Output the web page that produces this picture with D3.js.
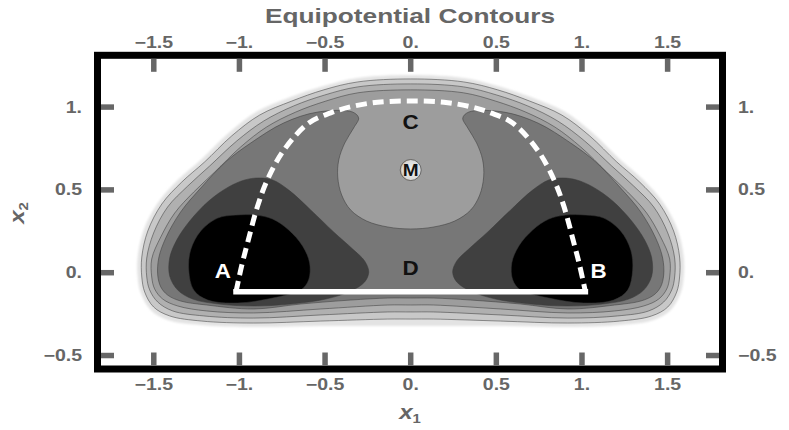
<!DOCTYPE html>
<html><head><meta charset="utf-8">
<script src="https://cdn.jsdelivr.net/npm/d3@7"></script>
<style>
body{margin:0;background:#fff;}
svg{display:block;}
text{font-family:"Liberation Sans",Arial,sans-serif;font-weight:bold;}
</style>
</head><body>
<svg id="c" width="789" height="430"></svg>
<script>
// ---- axis ticks ----
const xTicks = [-1.5, -1, -0.5, 0, 0.5, 1, 1.5];
const xTickLabels = ["\u22121.5", "\u22121.", "\u22120.5", "0.", "0.5", "1.", "1.5"];
const yTicks = [-0.5, 0, 0.5, 1];
const yTickLabels = ["\u22120.5", "0.", "0.5", "1."];

// ---- equipotential contour boundaries (x1, x2) ----
const level6 = [[0,1.194],[-0.309,1.176],[-0.508,1.127],[-0.701,1.061],[-0.893,0.976],[-1.063,0.844],[-1.226,0.681],[-1.360,0.560],[-1.477,0.421],[-1.559,0.258],[-1.594,0.095],[-1.594,-0.026],[-1.576,-0.123],[-1.518,-0.225],[-1.419,-0.286],[-1.226,-0.316],[-0.917,-0.328],[-0.525,-0.322],[-0.134,-0.322],[0,-0.322],[0.134,-0.322],[0.525,-0.322],[0.917,-0.328],[1.226,-0.316],[1.419,-0.286],[1.518,-0.225],[1.576,-0.123],[1.594,-0.026],[1.594,0.095],[1.559,0.258],[1.477,0.421],[1.360,0.560],[1.226,0.681],[1.063,0.844],[0.893,0.976],[0.701,1.061],[0.508,1.127],[0.309,1.176]];
const level5 = [[0,1.170],[-0.309,1.152],[-0.508,1.104],[-0.695,1.036],[-0.882,0.952],[-1.045,0.826],[-1.203,0.669],[-1.337,0.547],[-1.453,0.415],[-1.535,0.252],[-1.570,0.095],[-1.570,-0.026],[-1.553,-0.117],[-1.501,-0.207],[-1.407,-0.261],[-1.220,-0.292],[-0.917,-0.304],[-0.525,-0.292],[-0.134,-0.280],[0,-0.280],[0.134,-0.280],[0.525,-0.292],[0.917,-0.304],[1.220,-0.292],[1.407,-0.261],[1.501,-0.207],[1.553,-0.117],[1.570,-0.026],[1.570,0.095],[1.535,0.252],[1.453,0.415],[1.337,0.547],[1.203,0.669],[1.045,0.826],[0.882,0.952],[0.695,1.036],[0.508,1.104],[0.309,1.152]];
const level4 = [[0,1.140],[-0.309,1.122],[-0.502,1.073],[-0.683,1.007],[-0.858,0.916],[-1.016,0.795],[-1.174,0.644],[-1.302,0.523],[-1.419,0.397],[-1.501,0.240],[-1.541,0.089],[-1.541,-0.026],[-1.524,-0.104],[-1.477,-0.177],[-1.389,-0.231],[-1.208,-0.261],[-0.917,-0.274],[-0.525,-0.255],[-0.134,-0.237],[0,-0.237],[0.134,-0.237],[0.525,-0.255],[0.917,-0.274],[1.208,-0.261],[1.389,-0.231],[1.477,-0.177],[1.524,-0.104],[1.541,-0.026],[1.541,0.089],[1.501,0.240],[1.419,0.397],[1.302,0.523],[1.174,0.644],[1.016,0.795],[0.858,0.916],[0.683,1.007],[0.502,1.073],[0.309,1.122]];
const level3 = [[0,1.104],[-0.309,1.086],[-0.496,1.036],[-0.671,0.970],[-0.841,0.880],[-0.993,0.759],[-1.144,0.608],[-1.267,0.487],[-1.378,0.360],[-1.459,0.216],[-1.512,0.083],[-1.512,-0.026],[-1.495,-0.098],[-1.448,-0.159],[-1.360,-0.201],[-1.191,-0.231],[-0.917,-0.243],[-0.525,-0.219],[-0.134,-0.195],[0,-0.195],[0.134,-0.195],[0.525,-0.219],[0.917,-0.243],[1.191,-0.231],[1.360,-0.201],[1.448,-0.159],[1.495,-0.098],[1.512,-0.026],[1.512,0.083],[1.459,0.216],[1.378,0.360],[1.267,0.487],[1.144,0.608],[0.993,0.759],[0.841,0.880],[0.671,0.970],[0.496,1.036],[0.309,1.086]];
// U-shaped body band (leaves the central hill around M open)
const level2 = [[-0.339,0.970],[-0.304,0.934],[-0.333,0.874],[-0.385,0.783],[-0.420,0.681],[-0.426,0.578],[-0.403,0.469],[-0.350,0.378],[-0.257,0.312],[-0.134,0.276],[0,0.264],[0.134,0.276],[0.257,0.312],[0.350,0.378],[0.403,0.469],[0.426,0.578],[0.420,0.681],[0.385,0.783],[0.333,0.874],[0.304,0.934],[0.339,0.970],[0.543,0.970],[0.742,0.904],[0.934,0.783],[1.080,0.669],[1.226,0.511],[1.343,0.367],[1.430,0.210],[1.471,0.089],[1.477,-0.014],[1.459,-0.086],[1.419,-0.135],[1.343,-0.171],[1.191,-0.195],[0.917,-0.219],[0.642,-0.189],[0.350,-0.165],[0.134,-0.153],[0,-0.153],[-0.134,-0.153],[-0.350,-0.165],[-0.642,-0.189],[-0.917,-0.219],[-1.191,-0.195],[-1.343,-0.171],[-1.419,-0.135],[-1.459,-0.086],[-1.477,-0.014],[-1.471,0.089],[-1.430,0.210],[-1.343,0.367],[-1.226,0.511],[-1.080,0.669],[-0.934,0.783],[-0.742,0.904],[-0.543,0.970]];
const level1Left = [[-0.887,0.572],[-0.806,0.560],[-0.712,0.499],[-0.584,0.379],[-0.450,0.246],[-0.339,0.143],[-0.269,0.071],[-0.245,0.004],[-0.269,-0.056],[-0.350,-0.111],[-0.496,-0.159],[-0.701,-0.189],[-0.917,-0.201],[-1.121,-0.189],[-1.273,-0.159],[-1.360,-0.105],[-1.407,-0.020],[-1.407,0.089],[-1.366,0.197],[-1.290,0.312],[-1.179,0.433],[-1.063,0.518],[-0.969,0.560]];
const level1Right = [[0.887,0.572],[0.806,0.560],[0.712,0.499],[0.584,0.379],[0.450,0.246],[0.339,0.143],[0.269,0.071],[0.245,0.004],[0.269,-0.056],[0.350,-0.111],[0.496,-0.159],[0.701,-0.189],[0.917,-0.201],[1.121,-0.189],[1.273,-0.159],[1.360,-0.105],[1.407,-0.020],[1.407,0.089],[1.366,0.197],[1.290,0.312],[1.179,0.433],[1.063,0.518],[0.969,0.560]];
const level0Left = [[-1.127,0.330],[-1.022,0.348],[-0.905,0.348],[-0.806,0.324],[-0.712,0.258],[-0.631,0.161],[-0.590,0.059],[-0.596,-0.044],[-0.642,-0.105],[-0.806,-0.153],[-1.010,-0.183],[-1.185,-0.165],[-1.267,-0.105],[-1.296,0.016],[-1.285,0.137],[-1.226,0.252]];
const level0Right = [[1.127,0.330],[1.022,0.348],[0.905,0.348],[0.806,0.324],[0.712,0.258],[0.631,0.161],[0.590,0.059],[0.596,-0.044],[0.642,-0.105],[0.806,-0.153],[1.010,-0.183],[1.185,-0.165],[1.267,-0.105],[1.296,0.016],[1.285,0.137],[1.226,0.252]];

const bandFills = ["#000000", "#404040", "#777777", "#9d9d9d", "#b0b0b0", "#c8c8c8", "#e3e3e3"];

// ---- paths ----
const arcPath = [[-1.02,-0.115],[-0.985,0.05],[-0.953,0.178],[-0.895,0.399],[-0.837,0.560],[-0.740,0.741],[-0.595,0.904],[-0.467,0.965],[-0.350,1.002],[-0.194,1.029],[0,1.037],[0.194,1.029],[0.350,1.002],[0.467,0.965],[0.595,0.904],[0.740,0.741],[0.837,0.560],[0.895,0.399],[0.953,0.178],[0.985,0.05],[1.02,-0.115]];
const basePath = [[-1.02,-0.115],[1.02,-0.115]];

// ---- point labels ----
const pointNames = ["A", "B", "C", "D", "M"];
const pointX = [-1.097, 1.097, 0, 0, 0];
const pointY = [0.01, 0.01, 0.91, 0.028, 0.62];
const pointColors = ["#ffffff", "#ffffff", "#111111", "#111111", "#111111"];

// =====================================================
const svg = d3.select("#c");
const x = d3.scaleLinear().domain([-1.8, 1.8]).range([102.4, 719.0]);
const y = d3.scaleLinear().domain([-0.55, 1.3]).range([363.8, 57.4]);
const closedLine = d3.line().x(d => x(d[0])).y(d => y(d[1])).curve(d3.curveCatmullRomClosed.alpha(0.5));
const openLine = d3.line().x(d => x(d[0])).y(d => y(d[1])).curve(d3.curveCatmullRom.alpha(0.5));

const defs = svg.append("defs");
defs.append("filter").attr("id", "soft").attr("x", "-5%").attr("y", "-5%").attr("width", "110%").attr("height", "110%")
  .append("feGaussianBlur").attr("stdDeviation", 0.8);
const rg = defs.append("radialGradient").attr("id", "mg").attr("cx", "0.55").attr("cy", "0.5").attr("r", "0.6");
rg.append("stop").attr("offset", "0").attr("stop-color", "#f2f2f2");
rg.append("stop").attr("offset", "0.75").attr("stop-color", "#d9d9d9");
rg.append("stop").attr("offset", "1").attr("stop-color", "#b08a60");

const g = svg.append("g");
g.append("path").attr("d", closedLine(level6)).attr("fill", bandFills[6]).attr("filter", "url(#soft)");
const bands = [
  {pts: level5, fill: bandFills[5]},
  {pts: level4, fill: bandFills[4]},
  {pts: level3, fill: bandFills[3]},
  {pts: level2, fill: bandFills[2]},
  {pts: level1Left, fill: bandFills[1]},
  {pts: level1Right, fill: bandFills[1]},
  {pts: level0Left, fill: bandFills[0]},
  {pts: level0Right, fill: bandFills[0]}
];
g.selectAll("path.band").data(bands).join("path").attr("class", "band")
  .attr("d", d => closedLine(d.pts)).attr("fill", d => d.fill)
  .attr("stroke", "#3a3a3a").attr("stroke-width", 0.7).attr("stroke-opacity", 0.75);

// dashed arc and base line
g.append("path").attr("d", openLine(arcPath)).attr("fill", "none")
  .attr("stroke", "#ffffff").attr("stroke-width", 5).attr("stroke-dasharray", "11,6");
g.append("path").attr("d", d3.line().x(d => x(d[0])).y(d => y(d[1]))(basePath)).attr("fill", "none")
  .attr("stroke", "#ffffff").attr("stroke-width", 5.5).attr("stroke-linecap", "square");

// M marker
g.append("circle").attr("cx", x(pointX[4])).attr("cy", y(pointY[4])).attr("r", 10.5)
  .attr("fill", "url(#mg)").attr("stroke", "#555").attr("stroke-width", 0.8);

// point labels
g.selectAll("text.pt").data(pointNames).join("text").attr("class", "pt")
  .attr("transform", (d, i) => `translate(${x(pointX[i])},${y(pointY[i])}) scale(1.12,1)`)
  .attr("text-anchor", "middle").attr("dy", "0.36em")
  .attr("font-size", (d, i) => i === 4 ? 17 : 20)
  .attr("fill", (d, i) => pointColors[i]).text(d => d);

// frame
const fx0 = 97.5, fx1 = 722.5, fy0 = 55.3, fy1 = 369.0;
svg.append("rect").attr("x", fx0).attr("y", fy0).attr("width", fx1 - fx0).attr("height", fy1 - fy0)
  .attr("fill", "none").attr("stroke", "#000").attr("stroke-width", 7);

// ticks
const tickColor = "#676767", tickLen = 13, tickW = 5.5;
const inL = fx0 + 3.5, inR = fx1 - 3.5, inT = fy0 + 3.5, inB = fy1 - 3.5;
const tk = svg.append("g").attr("stroke", tickColor).attr("stroke-width", tickW);
tk.selectAll("line.tt").data(xTicks).join("line").attr("class", "tt")
  .attr("x1", d => x(d)).attr("x2", d => x(d)).attr("y1", inT).attr("y2", inT + tickLen);
tk.selectAll("line.tb").data(xTicks).join("line").attr("class", "tb")
  .attr("x1", d => x(d)).attr("x2", d => x(d)).attr("y1", inB).attr("y2", inB - tickLen);
tk.selectAll("line.tl").data(yTicks).join("line").attr("class", "tl")
  .attr("y1", d => y(d)).attr("y2", d => y(d)).attr("x1", inL).attr("x2", inL + tickLen);
tk.selectAll("line.tr").data(yTicks).join("line").attr("class", "tr")
  .attr("y1", d => y(d)).attr("y2", d => y(d)).attr("x1", inR).attr("x2", inR - tickLen);

const lab = svg.append("g").attr("fill", "#666666").attr("font-size", 16);
lab.selectAll("text.xt").data(xTicks).join("text").attr("class", "xt")
  .attr("transform", d => `translate(${x(d)},48) scale(1.22,1)`).attr("text-anchor", "middle")
  .text((d, i) => xTickLabels[i]);
lab.selectAll("text.xb").data(xTicks).join("text").attr("class", "xb")
  .attr("transform", d => `translate(${x(d)},390) scale(1.22,1)`).attr("text-anchor", "middle")
  .text((d, i) => xTickLabels[i]);
lab.selectAll("text.yl").data(yTicks).join("text").attr("class", "yl")
  .attr("transform", d => `translate(82,${y(d) + 5.6}) scale(1.22,1)`).attr("text-anchor", "end")
  .text((d, i) => yTickLabels[i]);
lab.selectAll("text.yr").data(yTicks).join("text").attr("class", "yr")
  .attr("transform", d => `translate(738,${y(d) + 5.6}) scale(1.22,1)`).attr("text-anchor", "start")
  .text((d, i) => yTickLabels[i]);

// title
svg.append("text").attr("transform", "translate(410,22.5) scale(1.25,1)").attr("text-anchor", "middle")
  .attr("font-size", 21).attr("fill", "#666666").text("Equipotential Contours");

// axis labels
const xl = svg.append("text").attr("transform", "translate(410,419) scale(1.15,1)").attr("text-anchor", "middle")
  .attr("fill", "#666666").attr("font-size", 21);
xl.append("tspan").attr("font-style", "italic").text("x");
xl.append("tspan").attr("font-size", 13).attr("dy", 4).text("1");
const yl = svg.append("text").attr("transform", "translate(24,213) rotate(-90) scale(1.15,1)").attr("text-anchor", "middle")
  .attr("fill", "#666666").attr("font-size", 21);
yl.append("tspan").attr("font-style", "italic").text("x");
yl.append("tspan").attr("font-size", 13).attr("dy", 4).text("2");
</script>
</body></html>
